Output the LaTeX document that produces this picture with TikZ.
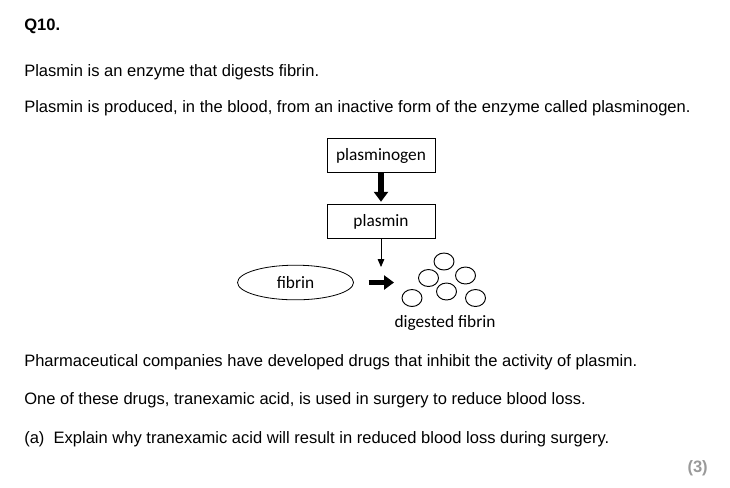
\documentclass[tikz,border=0pt]{standalone}
\usepackage{fontspec}
\setmainfont{Liberation Sans}
\newfontfamily\figfont{Carlito}
\usetikzlibrary{arrows.meta,shapes.geometric}
\def\bead{ellipse (10 and 8.5)}

\tikzset{
  qtext/.style={anchor=base west, inner sep=0pt, font=\fontsize{12.4}{14}\selectfont},
  labbox/.style={draw, line width=0.6pt, minimum width=81pt, minimum height=26pt, inner sep=0pt, font=\figfont\fontsize{13}{15}\selectfont},
  fatarrow/.style={line width=4pt, -{Triangle[width=10.5pt,length=7.5pt]}},
  thinarrow/.style={line width=0.6pt, -{Triangle[width=5pt,length=6pt]}}
}

\begin{document}
\begin{tikzpicture}[x=0.75pt, y=-0.75pt]
    \useasboundingbox (0,0) rectangle (730,487);
    % question text
    \node[qtext, font=\bfseries\fontsize{12.4}{14}\selectfont] (qno) at (24,30) {Q10.};
    \node[qtext] (l1) at (24,76) {Plasmin is an enzyme that digests fibrin.};
    \node[qtext] (l2) at (24,112) {Plasmin is produced, in the blood, from an inactive form of the enzyme called plasminogen.};
    % diagram
    \node[labbox] (pgen) at (381,155.5) {plasminogen};
    \node[labbox] (plas) at (381,221.5) {plasmin};
    \node[draw, ellipse, line width=0.6pt, minimum width=87pt, minimum height=26pt, inner sep=0pt,
          font=\figfont\fontsize{13}{15}\selectfont] (fib) at (295.5,282.5) {fibrin};
    \coordinate (drop) at (381,267);
    \coordinate (gone) at (394,282.5);
    \draw[fatarrow, shorten >=1.5pt] (pgen) -- (plas);
    \draw[thinarrow] (plas) -- (drop);
    \draw[fatarrow, shorten <=11pt] (fib) -- (gone);
    \draw[line width=0.7pt] (444,261.5) \bead (428.5,278) \bead (465.5,275.5) \bead
        (446.5,291.5) \bead (412,298) \bead (475.5,298) \bead;
    \node[font=\figfont\fontsize{13}{15}\selectfont] (dig) at (445,323) {digested fibrin};
    % more text
    \node[qtext] (l3) at (24,366) {Pharmaceutical companies have developed drugs that inhibit the activity of plasmin.};
    \node[qtext] (l4) at (24,404) {One of these drugs, tranexamic acid, is used in surgery to reduce blood loss.};
    \node[qtext] (l5) at (24,443) {(a)\ \ Explain why tranexamic acid will result in reduced blood loss during surgery.};
    \node[qtext, anchor=base east, text=black!40, font=\bfseries\fontsize{12.4}{14}\selectfont] (mk) at (708,472) {(3)};
\end{tikzpicture}
\end{document}
